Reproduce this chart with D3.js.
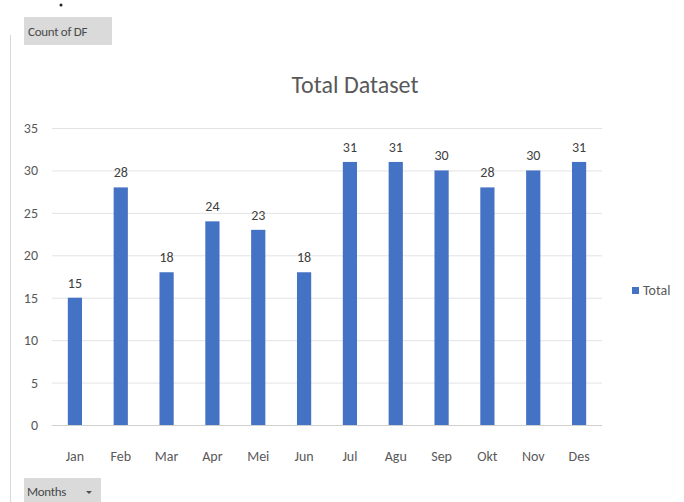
<!DOCTYPE html>
<html>
<head>
<meta charset="utf-8">
<script src="https://cdn.jsdelivr.net/npm/d3@7"></script>
<style>
  body { margin: 0; background: #fff; }
  text { font-family: Calibri, Carlito, "Open Sans", sans-serif; }
</style>
</head>
<body>
<div id="chart"></div>
<script>
(function() {
  var width = 684, height = 502;

  var months = ["Jan", "Feb", "Mar", "Apr", "Mei", "Jun", "Jul", "Agu", "Sep", "Okt", "Nov", "Des"];
  var totals = [15, 28, 18, 24, 23, 18, 31, 31, 30, 28, 30, 31];
  var yTicks = [0, 5, 10, 15, 20, 25, 30, 35];

  var svg = d3.select("#chart")
    .append("svg")
    .attr("width", width)
    .attr("height", height);

  var xScale = d3.scaleBand().domain(months).range([52, 602]).paddingInner(0.69).paddingOuter(0.345)
  var yScale = d3.scaleLinear().domain([0, 35]).range([425, 128])

  // left border of the pivot area
  svg.append("line")
    .attr("x1", 10.5).attr("x2", 10.5)
    .attr("y1", 35).attr("y2", height)
    .attr("stroke", "#d9d9d9")

  svg.append("circle").attr("cx", 61).attr("cy", 5).attr("r", 1.5).attr("fill", "#222")

  // pivot field buttons
  svg.append("rect")
    .attr("x", 24).attr("y", 17).attr("width", 88).attr("height", 28)
    .attr("fill", "#dadada")
  svg.append("text")
    .attr("x", 28).attr("y", 36)
    .style("font-size", "13px").style("fill", "#4a4a4a")
    .style("letter-spacing", "-0.3px")
    .text("Count of DF")

  svg.append("rect")
    .attr("x", 24).attr("y", 478).attr("width", 77).attr("height", 24)
    .attr("fill", "#dadada")
  svg.append("text")
    .attr("x", 27).attr("y", 496)
    .style("font-size", "13px").style("fill", "#4a4a4a")
    .style("letter-spacing", "-0.3px")
    .text("Months")
  svg.append("path")
    .attr("d", "M86,491 L92,491 L89,494 Z")
    .attr("fill", "#505050")

  // title
  svg.append("text")
    .attr("x", 355).attr("y", 93)
    .style("font-size", "24px").style("fill", "#595959")
    .style("text-anchor", "middle")
    .text("Total Dataset")

  // gridlines
  svg.selectAll(".grid")
    .data(yTicks)
    .enter().append("line")
    .attr("class", "grid")
    .attr("x1", 52).attr("x2", 602)
    .attr("y1", function(d) { return yScale(d) + 0.5 })
    .attr("y2", function(d) { return yScale(d) + 0.5 })
    .attr("stroke", function(d) { return d === 0 ? "#d0d0d0" : "#e3e3e3" })
    .attr("stroke-width", 1)

  svg.selectAll(".ytick")
    .data(yTicks)
    .enter().append("text")
    .attr("class", "ytick")
    .attr("x", 38)
    .attr("y", function(d) { return yScale(d) + 5 })
    .style("font-size", "14px").style("fill", "#595959")
    .style("text-anchor", "end")
    .text(function(d) { return d })

  var xAxis = svg.append("g")
    .attr("transform", "translate(0," + 438 + ")")
    .call(d3.axisBottom(xScale).tickSize(0).tickPadding(13))
  xAxis.select(".domain").remove()
  xAxis.selectAll("text")
    .style("font-size", "14px").style("fill", "#595959")
    .style("font-family", "Calibri, Carlito, 'Open Sans', sans-serif")

  // bars
  svg.selectAll(".bar")
    .data(totals)
    .enter().append("rect")
    .attr("class", "bar")
    .attr("x", function(d, i) { return xScale(months[i]) })
    .attr("y", function(d) { return yScale(d) })
    .attr("width", xScale.bandwidth())
    .attr("height", function(d) { return yScale(0) - yScale(d) })
    .attr("fill", "#4472c4")

  svg.selectAll(".barlabel")
    .data(totals)
    .enter().append("text")
    .attr("class", "barlabel")
    .attr("x", function(d, i) { return xScale(months[i]) + xScale.bandwidth() / 2 })
    .attr("y", function(d) { return yScale(d) - 10 })
    .style("font-size", "14px").style("fill", "#404040")
    .style("text-anchor", "middle")
    .text(function(d) { return d })

  // legend
  svg.append("rect")
    .attr("x", 632).attr("y", 287).attr("width", 7).attr("height", 7)
    .attr("fill", "#4472c4")
  svg.append("text")
    .attr("x", 643).attr("y", 295)
    .style("font-size", "14px").style("fill", "#595959")
    .text("Total")
})();
</script>
</body>
</html>
